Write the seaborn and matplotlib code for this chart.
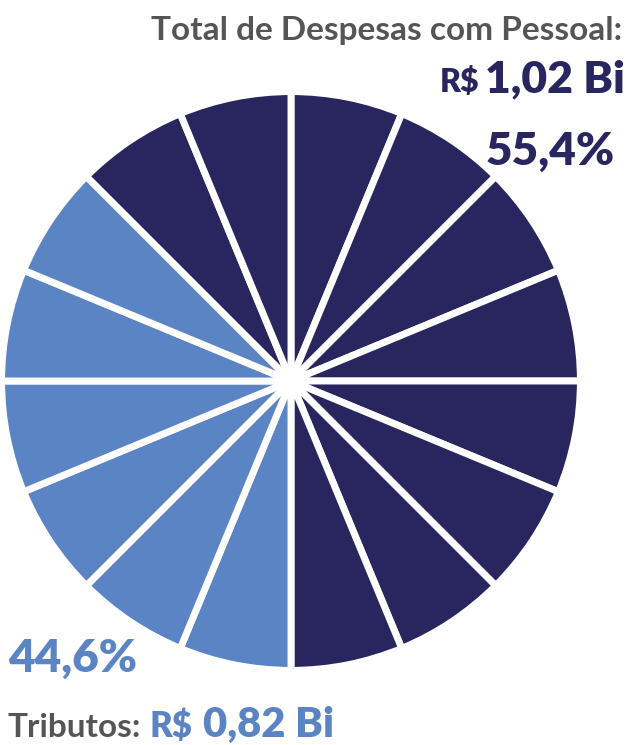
import matplotlib
matplotlib.use("Agg")
import matplotlib.pyplot as plt
import seaborn as sns

# shares shown in the text
groups = ["Despesas com Pessoal", "Tributos"]
share_pct = ["55,4%", "44,6%"]
share_value = ["1,02 Bi", "0,82 Bi"]
group_colors = ["#29265f", "#5b84c4"]

# pictogram wedges, clockwise from 12 o'clock (16 equal pieces)
wedge_group = [0] * 8 + [1] * 6 + [0] * 2
wedge_size = [1] * len(wedge_group)

sns.set_theme(style="white")
plt.rcParams["font.family"] = ["Lato", "DejaVu Sans"]

W, H = 630, 745
fig = plt.figure(figsize=(W / 100, H / 100), dpi=100)


def px(x, y):
    return x / W, 1 - y / H


# pie axes: center (291, 381), radius ~289 px
cx, cy, r = 291, 381, 290
ax = fig.add_axes([(cx - r) / W, (H - cy - r) / H, 2 * r / W, 2 * r / H])
ax.pie(wedge_size, colors=[group_colors[g] for g in wedge_group],
       startangle=90, counterclock=False, radius=0.998,
       wedgeprops=dict(edgecolor="white", linewidth=5))
ax.add_patch(plt.Circle((0, 0), 0.05, color="white", zorder=5))
ax.set_xlim(-1, 1)
ax.set_ylim(-1, 1)
ax.set_aspect("equal")
ax.axis("off")

gray = "#555555"
fig.text(*px(622, 40), "Total de Despesas com Pessoal:", ha="right", va="baseline",
         fontsize=24, fontweight="bold", color=gray)
fig.text(*px(625, 92), share_value[0], ha="right", va="baseline",
         fontsize=32, fontweight="heavy", color=group_colors[0])
fig.text(*px(479, 92), "R$", ha="right", va="baseline",
         fontsize=23, fontweight="heavy", color=group_colors[0])
fig.text(*px(615, 165), share_pct[0], ha="right", va="baseline",
         fontsize=33, fontweight="heavy", color=group_colors[0])

fig.text(*px(8, 672), share_pct[1], ha="left", va="baseline",
         fontsize=33, fontweight="heavy", color=group_colors[1])
fig.text(*px(7, 737), "Tributos:", ha="left", va="baseline",
         fontsize=24, fontweight="bold", color=gray)
fig.text(*px(150, 737), "R$", ha="left", va="baseline",
         fontsize=25, fontweight="heavy", color=group_colors[1])
fig.text(*px(203, 737), share_value[1], ha="left", va="baseline",
         fontsize=30, fontweight="heavy", color=group_colors[1])

fig.savefig("out.png", dpi=100, facecolor="white")
